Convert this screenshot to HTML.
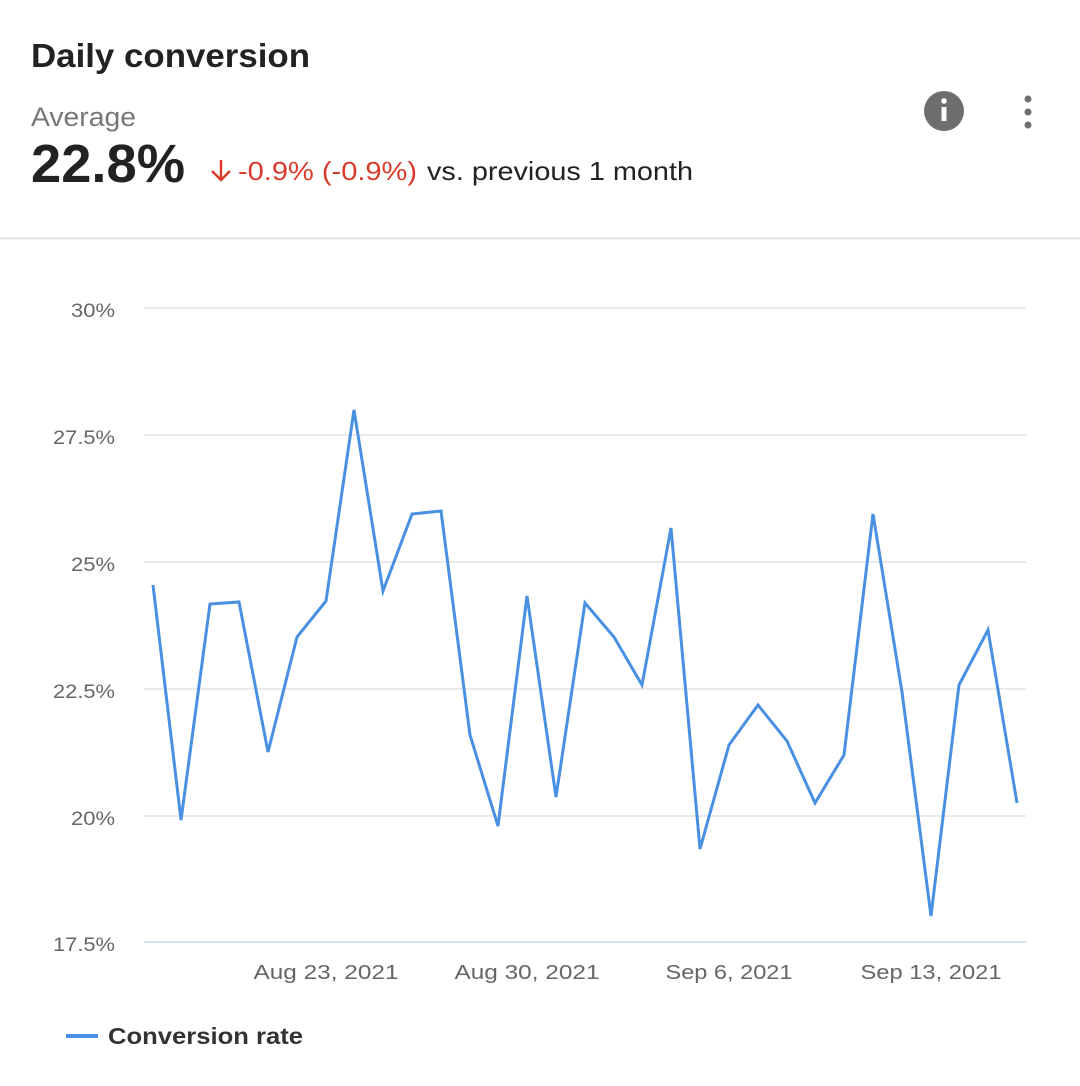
<!DOCTYPE html>
<html><head><style>
html,body{margin:0;padding:0;background:#fff;width:1080px;height:1086px;overflow:hidden;font-family:"Liberation Sans",sans-serif;}
</style></head><body>
<svg width="1080" height="1086" viewBox="0 0 1080 1086" xmlns="http://www.w3.org/2000/svg" font-family="Liberation Sans, sans-serif">
<text x="31" y="67" font-size="33" font-weight="bold" fill="#222" textLength="279" lengthAdjust="spacingAndGlyphs">Daily conversion</text>
<text x="31" y="126" font-size="27" fill="#777" textLength="105" lengthAdjust="spacingAndGlyphs">Average</text>
<text x="31" y="182" font-size="54" font-weight="bold" fill="#222" textLength="154" lengthAdjust="spacingAndGlyphs">22.8%</text>
<g stroke="#d93b2b" stroke-width="2.5" fill="none"><line x1="221" y1="160" x2="221" y2="180"/><polyline points="212,171 221,180 230,171"/></g>
<text x="238" y="180" font-size="26" fill="#d93b2b" textLength="179" lengthAdjust="spacingAndGlyphs">-0.9% (-0.9%)</text>
<text x="427" y="180" font-size="26" fill="#222" textLength="266" lengthAdjust="spacingAndGlyphs">vs. previous 1 month</text>
<circle cx="944" cy="111" r="20" fill="#6e6e6e"/>
<circle cx="944" cy="101" r="2.8" fill="#fff"/>
<rect x="941.5" y="107" width="5" height="14" fill="#fff"/>
<circle cx="1028" cy="99" r="3.5" fill="#6e6e6e"/><circle cx="1028" cy="112" r="3.5" fill="#6e6e6e"/><circle cx="1028" cy="125" r="3.5" fill="#6e6e6e"/>
<line x1="0" y1="238.5" x2="1080" y2="238.5" stroke="#dcdcdc" stroke-width="1.5"/>
<g stroke="#e3e3e3" stroke-width="1.5">
<line x1="144" y1="308" x2="1026" y2="308"/><line x1="144" y1="435" x2="1026" y2="435"/><line x1="144" y1="562" x2="1026" y2="562"/><line x1="144" y1="689" x2="1026" y2="689"/><line x1="144" y1="816" x2="1026" y2="816"/>
</g>
<line x1="144" y1="942" x2="1026" y2="942" stroke="#c8d6ee" stroke-width="1.5"/>
<g font-size="19" fill="#666" text-anchor="end" lengthAdjust="spacingAndGlyphs">
<text x="115" y="317" textLength="44" lengthAdjust="spacingAndGlyphs">30%</text><text x="115" y="444" textLength="62" lengthAdjust="spacingAndGlyphs">27.5%</text><text x="115" y="571" textLength="44" lengthAdjust="spacingAndGlyphs">25%</text><text x="115" y="698" textLength="62" lengthAdjust="spacingAndGlyphs">22.5%</text><text x="115" y="825" textLength="44" lengthAdjust="spacingAndGlyphs">20%</text><text x="115" y="951" textLength="62" lengthAdjust="spacingAndGlyphs">17.5%</text>
</g>
<g font-size="20" fill="#666" text-anchor="middle">
<text x="326" y="979" textLength="145" lengthAdjust="spacingAndGlyphs">Aug 23, 2021</text><text x="527" y="979" textLength="145" lengthAdjust="spacingAndGlyphs">Aug 30, 2021</text><text x="729" y="979" textLength="127" lengthAdjust="spacingAndGlyphs">Sep 6, 2021</text><text x="931" y="979" textLength="141" lengthAdjust="spacingAndGlyphs">Sep 13, 2021</text>
</g>
<polyline fill="none" stroke="#4a90e2" stroke-width="3" stroke-linejoin="miter" points="153,585 181,820 210,604 239,602 268,752 297,637 326,601 354,410 383,591 412,514 441,511 470,735 498,826 527,596 556,797 585,603 614,637 642,685 671,528 700,849 729,745 758,705 787,741 815,803 844,755 873,514 902,692 931,916 959,685 988,630 1017,803"/>
<line x1="66" y1="1036" x2="98" y2="1036" stroke="#4a90e2" stroke-width="4"/>
<text x="108" y="1044" font-size="23" font-weight="bold" fill="#333" textLength="195" lengthAdjust="spacingAndGlyphs">Conversion rate</text>
</svg>
</body></html>
